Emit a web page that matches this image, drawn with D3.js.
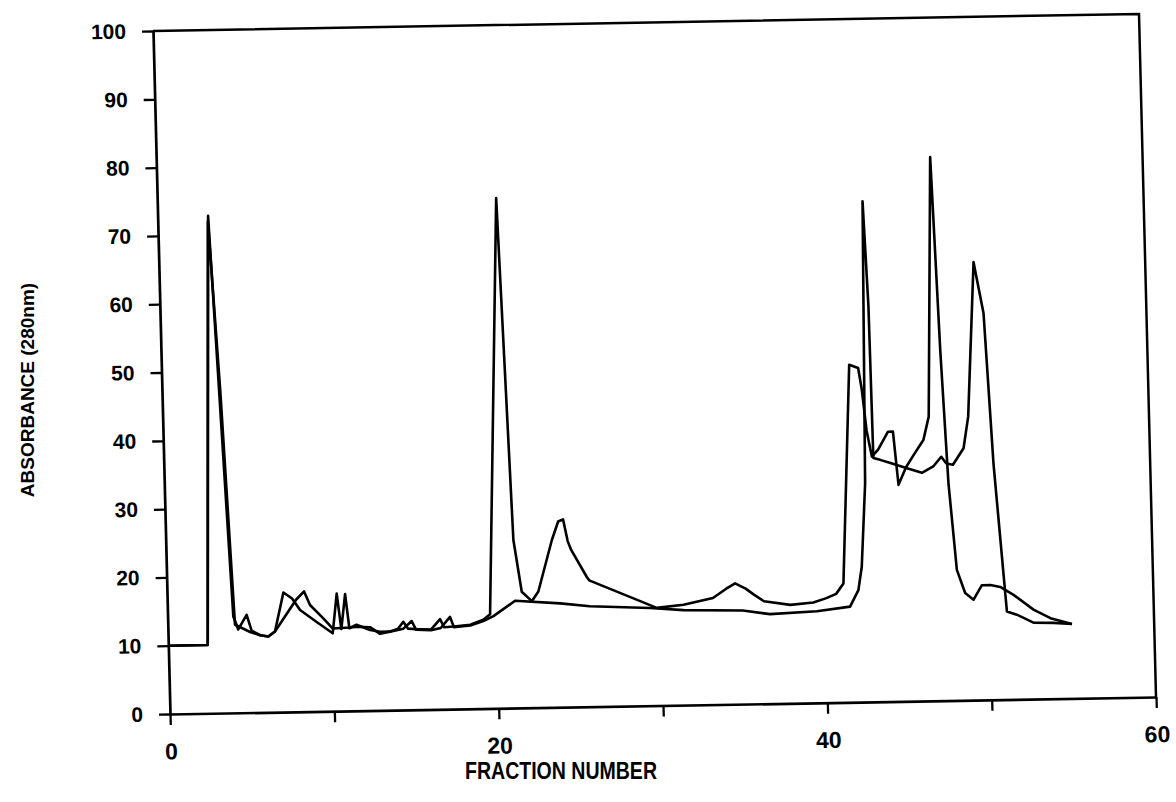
<!DOCTYPE html>
<html>
<head>
<meta charset="utf-8">
<script src="https://cdn.jsdelivr.net/npm/d3@7"></script>
<style>
  body { margin: 0; background: #fff; }
  .axis path, .axis line { stroke: #000; }
  .ytick text { font-family: "Liberation Sans", Arial, sans-serif; font-weight: bold; font-size: 21px; fill: #000; }
  .xtick text { font-family: "Liberation Sans Narrow", "Liberation Sans", Arial, sans-serif; font-weight: bold; font-size: 23px; fill: #000; }
  .axis-label { font-weight: bold; fill: #000; }
</style>
</head>
<body>
<script>

// Fraction number / absorbance pairs
var s1Frac = [0, 2.4, 3.07, 4.0, 4.28, 4.81, 5.09, 5.6, 6.1, 6.51, 7.08, 7.6, 8.07, 9.06, 10.02,
  10.32, 10.55, 10.83, 11.04, 11.48, 12.3, 12.9, 13.5, 14.0, 14.33, 14.6, 15.1, 16.0, 16.57, 16.8,
  17.4, 18.4, 19.2, 19.62, 20.62, 21.15, 21.58, 22.18, 22.59, 23.49, 23.9, 24.2, 24.45, 24.65,
  25.56, 25.7, 29.77, 31.4, 33.2, 34.0, 34.57, 35.2, 35.7, 36.3, 37.9, 39.3, 40.1, 40.7, 41.16,
  41.84, 42.38, 42.57, 42.8, 43.08, 43.47, 44.1, 44.4, 44.66, 45.15, 45.7, 46.24, 46.6, 47.08,
  47.4, 47.7, 48.08, 48.55, 49.05, 49.58, 50.1, 50.69, 51.49, 52.68, 53.7, 55.0];
var s1Abs = [10, 10, 72.8, 14.1, 12.2, 14.3, 12.0, 11.3, 11.1, 11.8, 17.5, 16.6, 14.9, 13.1, 11.4,
  17.2, 12.0, 17.1, 12.1, 12.6, 11.8, 11.5, 11.5, 11.9, 12.9, 11.9, 11.8, 11.7, 13.2, 12.0,
  12.1, 12.3, 13.0, 13.8, 74.7, 24.6, 17.0, 15.6, 17.0, 24.5, 27.2, 27.5, 24.3, 23.0,
  19.0, 18.5, 14.3, 14.7, 15.6, 16.9, 17.7, 16.9, 16.0, 15.0, 14.4, 14.7, 15.3, 15.9, 17.4,
  49.4, 48.9, 45.7, 39.7, 35.9, 36.9, 39.5, 39.5, 31.7, 34.3, 36.3, 38.2, 41.6, 79.6,
  51.4, 31.8, 19.1, 15.7, 14.7, 16.8, 16.8, 16.5, 15.3, 13.1, 11.8, 10.9];

var s2Frac = [0, 2.4, 3.05, 3.55, 4.09, 5.0, 5.6, 6.1, 6.51, 7.84, 8.34, 8.68, 9.47, 10.03,
  11.04, 11.6, 12.3, 12.9, 13.5, 14.33, 14.84, 15.1, 16.0, 16.6, 17.18, 17.4, 18.4, 19.2, 19.82,
  21.16, 23.9, 25.7, 29.36, 31.4, 35.0, 36.65, 39.5, 41.53, 42.06, 42.3, 42.63, 42.9, 43.1,
  43.17, 43.58, 44.2, 45.2, 46.1, 46.8, 47.3, 47.6, 48.0, 48.67, 49.0, 49.56, 50.09, 50.47,
  50.76, 51.06, 51.66, 52.66, 53.9, 55.0];
var s2Abs = [10, 10, 72.0, 47, 12.9, 11.8, 11.3, 11.1, 11.8, 16.4, 17.6, 15.6, 13.6, 12.1,
  12.2, 12.3, 12.2, 11.2, 11.5, 11.9, 13.0, 11.7, 11.6, 11.9, 13.5, 12.0, 12.2, 12.8, 13.5,
  15.7, 15.2, 14.7, 14.3, 13.9, 13.7, 13.1, 13.4, 14.0, 16.4, 19.8, 32.0, 73.3, 57.9,
  35.7, 35.4, 34.9, 34.1, 33.4, 34.3, 35.7, 34.7, 34.5, 36.9, 41.5, 64.1, 56.6, 34.5,
  23.9, 12.9, 12.4, 11.2, 11.1, 10.9];

var xTicks = [0, 10, 20, 30, 40, 50, 60];
var xLabelled = [0, 20, 40, 60];
var yTicks = [0, 10, 20, 30, 40, 50, 60, 70, 80, 90, 100];

var width = 986, height = 683;

var svg = d3.select("body").append("svg")
  .attr("width", 1176)
  .attr("height", 802)
  .style("background", "#fff");

// the scanned page sits slightly skewed, so the plot frame is too
var g = svg.append("g")
  .attr("transform", "matrix(1,-0.01724,0.0249,1,153,31)");

var x = d3.scaleLinear().domain([0, 60]).range([0, width]);
var y = d3.scaleLinear().domain([0, 100]).range([height, 0]);

var xAxis = d3.axisBottom(x)
  .tickValues(xTicks)
  .tickFormat(function(d) { return xLabelled.indexOf(d) >= 0 ? d : ""; })
  .tickSize(11).tickSizeOuter(0).tickPadding(18);
var yAxis = d3.axisLeft(y)
  .tickValues(yTicks)
  .tickSize(11).tickSizeOuter(0).tickPadding(16);

g.append("g")
  .attr("class", "axis xtick")
  .attr("transform", "translate(0," + height + ")")
  .call(xAxis);

g.append("g")
  .attr("class", "axis ytick")
  .call(yAxis);

g.selectAll(".axis path").attr("stroke-width", 2.7);
g.selectAll(".axis line").attr("stroke-width", 2.3);

// top and right edges of the frame
g.append("path")
  .attr("d", "M" + x(0) + "," + y(100) + "H" + x(60) + "V" + y(0))
  .attr("fill", "none")
  .attr("stroke", "#000")
  .attr("stroke-width", 2.5);

var line = d3.line()
  .x(function(d) { return x(d[0]); })
  .y(function(d) { return y(d[1]); });

var series = [d3.zip(s1Frac, s1Abs), d3.zip(s2Frac, s2Abs)];

g.selectAll(".trace")
  .data(series)
  .enter()
  .append("path")
  .attr("class", "trace")
  .attr("d", line)
  .attr("fill", "none")
  .attr("stroke", "#000")
  .attr("stroke-width", 2.6)
  .attr("stroke-linejoin", "round");

svg.append("text")
  .attr("class", "axis-label")
  .attr("x", 561)
  .attr("y", 779)
  .attr("text-anchor", "middle")
  .attr("textLength", 192)
  .attr("lengthAdjust", "spacingAndGlyphs")
  .style("font-family", "'Liberation Sans Narrow', 'Liberation Sans', Arial, sans-serif")
  .style("font-size", "24px")
  .text("FRACTION NUMBER");

svg.append("text")
  .attr("class", "axis-label")
  .attr("text-anchor", "middle")
  .attr("transform", "translate(34,390) rotate(-90)")
  .style("font-family", "'Liberation Sans', Arial, sans-serif")
  .style("font-size", "19px")
  .text("ABSORBANCE (280nm)");

</script>
</body>
</html>
